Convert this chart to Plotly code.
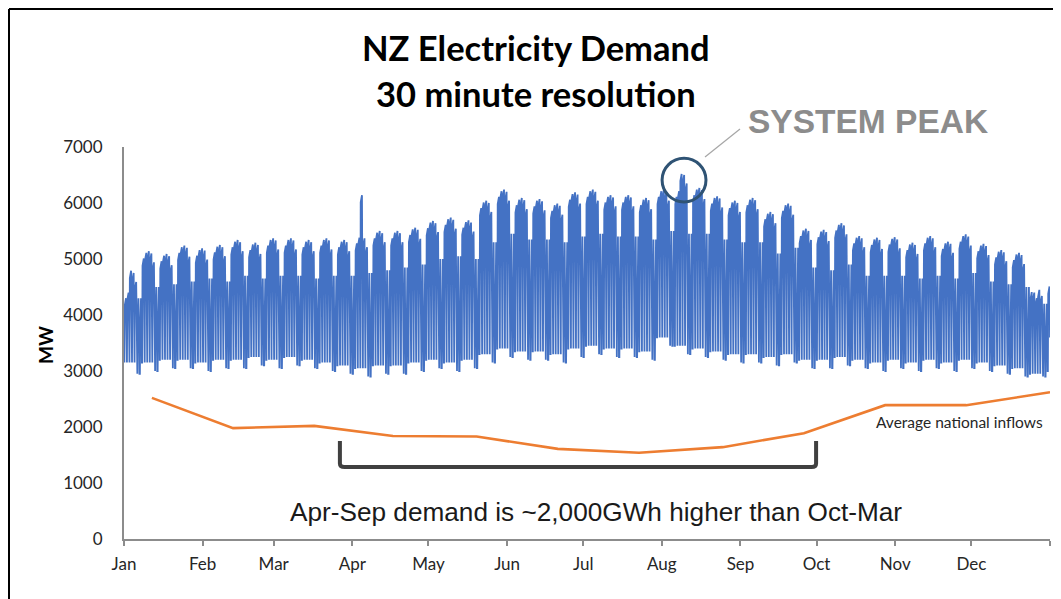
import plotly.graph_objects as go

# ---- data (MW) ----
# one value per week (week k = days 7k..7k+6, Jan 1 taken as a Monday)
weekday_peak = [4750, 5100, 5050, 5200, 5150, 5210, 5300, 5250, 5330, 5330, 5300, 5330, 5300,
                5370, 5460, 5460, 5520, 5640, 5700, 5650,
                6000, 6200, 6050, 6030, 5950, 6150, 6200, 6100, 6100, 6050, 6200, 6200, 6230, 6080, 6000, 6050,
                5800, 5950, 5500, 5480, 5600, 5370, 5340, 5350, 5250, 5370, 5270, 5400, 5230, 5120, 5070, 4500, 4600]
weekend_peak = [4300, 4500, 4550, 4600, 4650, 4600, 4700, 4650, 4700, 4700, 4650, 4700, 4700,
                4750, 4800, 4850, 4900, 5000, 5050, 5000,
                5300, 5450, 5350, 5350, 5300, 5400, 5450, 5400, 5400, 5350, 5500, 5450, 5450, 5350, 5300, 5300,
                5100, 5200, 4850, 4800, 4900, 4700, 4700, 4700, 4650, 4700, 4650, 4750, 4600, 4550, 4500, 4200, 4300]
weekday_low = [3150, 3150, 3200, 3200, 3150, 3200, 3200, 3250, 3200, 3250, 3200, 3150, 3100,
               3050, 3100, 3100, 3150, 3200, 3150, 3200,
               3300, 3400, 3350, 3350, 3300, 3400, 3450, 3400, 3400, 3350, 3600, 3450, 3400, 3350, 3300, 3300,
               3250, 3300, 3200, 3200, 3250, 3200, 3150, 3200, 3150, 3200, 3150, 3200, 3150, 3100, 3050, 2950, 3000]
weekend_low = [2950, 3000, 3050, 3050, 3000, 3050, 3050, 3100, 3050, 3100, 3050, 3000, 2950,
               2900, 2950, 2950, 3000, 3050, 3000, 3050,
               3150, 3250, 3200, 3200, 3150, 3250, 3300, 3250, 3250, 3200, 3450, 3300, 3250, 3200, 3150, 3150,
               3100, 3150, 3050, 3050, 3100, 3050, 3000, 3050, 3000, 3050, 3000, 3050, 3000, 2950, 2900, 2900, 2950]
midnight = [3800, 3850, 3850, 3900, 3850, 3900, 3900, 3950, 3900, 3900, 3850, 3850, 3800,
            3700, 3750, 3750, 3800, 3850, 3850, 3900,
            4200, 4300, 4250, 4250, 4200, 4300, 4350, 4300, 4300, 4250, 4450, 4350, 4300, 4250, 4200, 4200,
            4000, 4000, 3900, 3850, 3900, 3850, 3800, 3800, 3750, 3800, 3750, 3800, 3750, 3700, 3650, 3600, 3600]
# how each weekday (Mon..Fri) sits against the weekly peak
weekday_shift = [-90, 10, 40, 0, -160]
# single days that stand out (day of year -> daily peak)
peak_days = {0: 4300, 1: 4400, 93: 6140, 219: 6520, 220: 6500, 221: 6350,
             358: 4400, 359: 4300, 360: 4450}

# average national inflows (monthly)
inflow_day = [11, 43, 75, 106, 139, 171, 203, 236, 268, 300, 332, 365]
inflow_mw = [2520, 1980, 2020, 1840, 1830, 1610, 1540, 1640, 1890, 2390, 2390, 2620]

month_start = [0, 31, 59, 90, 120, 151, 181, 212, 243, 273, 304, 334, 365]
month_names = ["Jan", "Feb", "Mar", "Apr", "May", "Jun", "Jul", "Aug", "Sep", "Oct", "Nov", "Dec", ""]

# shape of a day: (fraction of the day, which daily level is reached there)
prof_weekday = [(0.0, "mid"), (0.06, "low"), (0.16, "low"), (0.30, "morning"),
                (0.80, "peak"), (0.92, "late")]
prof_weekend = [(0.0, "mid"), (0.10, "low"), (0.26, "low"), (0.44, "mid"),
                (0.58, "morning"), (0.70, "peak"), (0.86, "mid")]
morning_gap = 130  # morning peak sits a little under the evening one

# ---- build the half-hourly-looking trace from the daily values ----
xs, ys = [], []
for d in range(365):
    k = d // 7
    dow = d % 7
    weekend = dow >= 5
    if weekend:
        pk, lo = weekend_peak[k], weekend_low[k]
    else:
        pk, lo = weekday_peak[k] + weekday_shift[dow], weekday_low[k]
    pk = peak_days.get(d, pk)
    level = {"mid": midnight[k], "low": lo, "morning": pk - morning_gap, "peak": pk,
             "late": (pk + midnight[k]) / 2}
    for frac, name in (prof_weekend if weekend else prof_weekday):
        xs.append(d + frac)
        ys.append(level[name])
xs.append(365)
ys.append(midnight[-1])

fig = go.Figure()
fig.add_trace(go.Scatter(x=xs, y=ys, mode="lines",
                         line=dict(color="#4472C4", width=1.8), showlegend=False, hoverinfo="skip"))
fig.add_trace(go.Scatter(x=inflow_day, y=inflow_mw, mode="lines",
                         line=dict(color="#ED7D31", width=2.6), showlegend=False))

# the page body adds an 8px offset, so margins are set so that the plot area
# lands at x 124..1050 and y 147..539 in the screenshot
W, H = 1061, 599
pw, ph = 926, 392


def px(x):
    return (x - 124) / pw


def py(y):
    return (539 - y) / ph


tick_font = dict(family="Lato, Calibri, sans-serif", size=17, color="#262626")
fig.update_xaxes(range=[0, 365], tickvals=month_start, ticktext=month_names,
                 showline=True, linecolor="#8C8C8C", linewidth=2,
                 ticks="outside", ticklen=5, tickwidth=2, tickcolor="#8C8C8C",
                 showgrid=False, zeroline=False, tickfont=tick_font, ticklabelstandoff=4)
fig.update_yaxes(range=[0, 7000], tickvals=list(range(0, 7001, 1000)),
                 showline=True, linecolor="#8C8C8C", linewidth=2, ticks="",
                 showgrid=False, zeroline=False, tickfont=tick_font, ticklabelstandoff=16)

shapes = [
    # bracket under Apr-Sep
    dict(type="path", xref="x", yref="y",
         path="M 85.1,1750 L 85.1,1350 Q 85.1,1286 87,1286 L 271,1286 Q 272.8,1286 272.8,1350 L 272.8,1750",
         line=dict(color="#404040", width=4)),
    # system peak circle
    dict(type="circle", xref="x", yref="y", x0=212.1, x1=229.4, y0=6020, y1=6800,
         line=dict(color="#2F5374", width=3)),
    # leader line
    dict(type="line", xref="paper", yref="paper", x0=px(705), y0=py(157), x1=px(740), y1=py(129),
         line=dict(color="#A6A6A6", width=1.2)),
    # frame of the slide (as close to the page corner as the figure allows)
    dict(type="line", xref="paper", yref="paper", x0=px(9), y0=py(9), x1=px(1070), y1=py(9),
         line=dict(color="black", width=2)),
    dict(type="line", xref="paper", yref="paper", x0=px(9), y0=py(9), x1=px(9), y1=py(610),
         line=dict(color="black", width=2)),
]


def note(text, x, y, size, family="Lato, Calibri, sans-serif", color="black", **kw):
    d = dict(text=text, x=px(x), y=py(y), xref="paper", yref="paper", showarrow=False,
             xanchor="center", yanchor="middle", font=dict(family=family, size=size, color=color))
    d.update(kw)
    return d


annotations = [
    note("<b>NZ Electricity Demand</b>", 536, 47, 34.5),
    note("<b>30 minute resolution</b>", 536, 93, 34.5),
    note("<b>SYSTEM PEAK</b>", 868, 121, 33.5,
         family="Liberation Sans, Arial, sans-serif", color="#8C8C8C"),
    note("<b>MW</b>", 45, 345, 19, textangle=-90),
    note("Average national inflows", 874, 422, 15.5, color="#262626", xanchor="left"),
    note("Apr-Sep demand is ~2,000GWh higher than Oct-Mar", 596, 512, 26.2,
         family="Liberation Sans, Arial, sans-serif", color="#1a1a1a"),
]

fig.update_layout(width=W, height=H, margin=dict(l=116, r=19, t=139, b=68),
                  plot_bgcolor="white", paper_bgcolor="white",
                  shapes=shapes, annotations=annotations, showlegend=False)

fig.write_html("out.html")
